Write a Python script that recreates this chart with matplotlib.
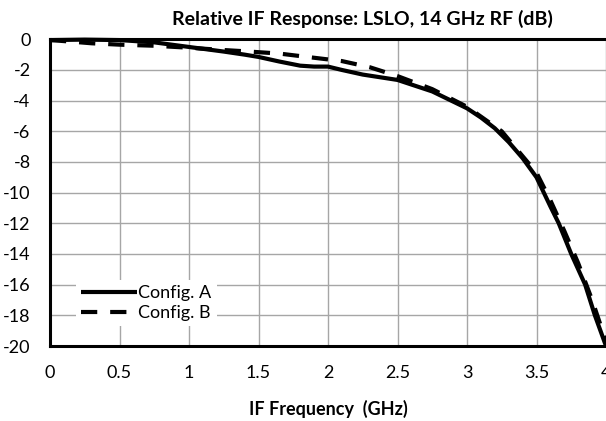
import matplotlib
matplotlib.use("Agg")
import matplotlib.pyplot as plt

freq_a = [0, 0.25, 0.5, 0.75, 1.0, 1.25, 1.4, 1.5, 1.65, 1.8, 1.9, 2.0, 2.1, 2.25, 2.5, 2.75, 3.0,
          3.1, 3.2, 3.3, 3.4, 3.5, 3.6, 3.66, 3.75, 3.85, 3.92, 4.0]
config_a = [-0.05, -0.02, -0.05, -0.2, -0.5, -0.8, -1.0, -1.15, -1.45, -1.72, -1.78, -1.78, -2.0, -2.3,
            -2.65, -3.4, -4.5, -5.1, -5.8, -6.7, -7.75, -9.0, -10.9, -12.0, -14.0, -16.0, -18.0, -20.0]

freq_b = [0, 0.15, 0.3, 0.5, 0.75, 1.0, 1.25, 1.4, 1.65, 1.85, 2.1, 2.3, 2.5, 2.75, 3.0,
          3.25, 3.5, 3.6, 3.7, 3.8, 3.9, 4.0]
config_b = [-0.05, -0.15, -0.26, -0.35, -0.42, -0.55, -0.7, -0.78, -0.93, -1.15, -1.42, -1.82,
            -2.4, -3.25, -4.4, -6.0, -8.7, -10.5, -12.5, -14.6, -17.0, -19.7]

xticks = [0, 0.5, 1, 1.5, 2, 2.5, 3, 3.5, 4]
xtick_labels = ["0", "0.5", "1", "1.5", "2", "2.5", "3", "3.5", "4"]
yticks = [0, -2, -4, -6, -8, -10, -12, -14, -16, -18, -20]

plt.rcParams['font.family'] = ['Lato', 'DejaVu Sans']

fig = plt.figure(figsize=(6.06, 4.21), dpi=100)
ax = fig.add_axes([50 / 606, 1 - 346 / 421, 556 / 606, (346 - 39.3) / 421])

ax.plot(freq_a, config_a, color='black', lw=3.0, label='Config. A', solid_capstyle='butt',
        zorder=3, clip_on=False)
lb, = ax.plot(freq_b, config_b, color='black', lw=3.0, label='Config. B', zorder=3,
              clip_on=False, dash_capstyle='butt')
lb.set_dashes((3.9, 3.1))

ax.set_xlim(0, 4)
ax.set_ylim(-20, 0)
ax.set_xticks(xticks)
ax.set_xticklabels(xtick_labels)
ax.set_yticks(yticks)
ax.set_yticklabels([str(v) for v in yticks])
ax.grid(True, color='#a6a6a6', lw=1.0)
ax.set_axisbelow(True)
ax.tick_params(length=0, labelsize=13, colors='black')
ax.tick_params(axis='y', pad=14)
ax.tick_params(axis='x', pad=14)

for s in ['left', 'bottom', 'top']:
    ax.spines[s].set_linewidth(2.2)
    ax.spines[s].set_color('black')
ax.spines['right'].set_visible(False)

ax.set_xlabel('IF Frequency  (GHz)', fontsize=13, fontweight='bold', labelpad=13)
fig.text(362 / 606, 1 - 19 / 421, 'Relative IF Response: LSLO, 14 GHz RF (dB)', ha='center',
         va='center', fontsize=14, fontweight='bold')

leg = ax.legend(loc='lower left', bbox_to_anchor=(0.03, 0.035), frameon=True, fontsize=13,
                handlelength=3.1, handletextpad=0.05, borderpad=0.3, labelspacing=0.2,
                fancybox=False)
leg.get_frame().set_edgecolor('none')
leg.get_frame().set_facecolor('white')
leg.get_frame().set_alpha(1)

fig.savefig('out.png', dpi=100)
